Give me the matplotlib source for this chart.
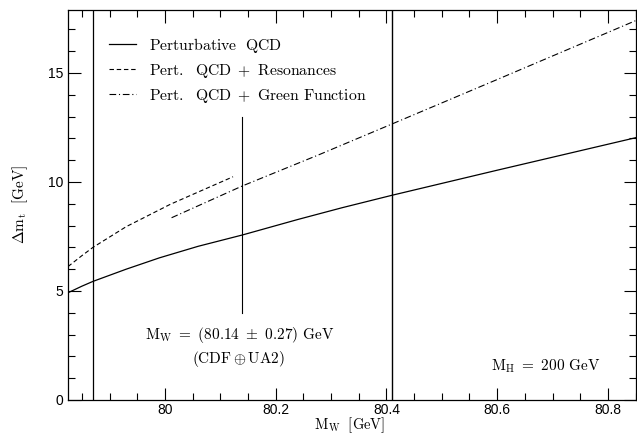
import matplotlib
matplotlib.use("Agg")
import matplotlib.pyplot as plt
from matplotlib.ticker import MultipleLocator

plt.rcParams['mathtext.fontset'] = 'cm'
plt.rcParams['font.family'] = ['Liberation Sans', 'DejaVu Sans']

# Perturbative QCD
mw_pqcd = [79.825, 79.85, 79.87, 79.93, 79.99, 80.06, 80.14, 80.24, 80.32, 80.41, 80.6, 80.85]
dm_pqcd = [4.92, 5.22, 5.44, 6.0, 6.52, 7.05, 7.57, 8.28, 8.82, 9.39, 10.54, 12.03]

# Pert. QCD + Resonances
mw_res = [79.825, 79.85, 79.87, 79.93, 80.01, 80.07, 80.123]
dm_res = [6.12, 6.62, 7.0, 7.95, 8.98, 9.65, 10.24]

# Pert. QCD + Green Function
mw_green = [80.012, 80.14, 80.28, 80.41, 80.6, 80.85]
dm_green = [8.36, 9.82, 11.27, 12.66, 14.7, 17.4]

labels = [r'$\mathrm{Perturbative\ \ QCD}$',
          r'$\mathrm{Pert.\ \ QCD\ +\ Resonances}$',
          r'$\mathrm{Pert.\ \ QCD\ +\ Green\ Function}$']

mw_central = 80.14
mw_err = 0.27

fig = plt.figure(figsize=(6.37, 4.36), dpi=100)
ax = fig.add_axes([0.1068, 0.0826, 0.891, 0.895])

ax.plot(mw_pqcd, dm_pqcd, color='black', lw=0.9, label=labels[0])
ax.plot(mw_res, dm_res, color='black', lw=0.8, dashes=(4, 2.5), label=labels[1])
ax.plot(mw_green, dm_green, color='black', lw=0.8, dashes=(6, 2.5, 1, 2.5), label=labels[2])

ax.axvline(mw_central - mw_err, color='black', lw=0.9)
ax.axvline(mw_central + mw_err, color='black', lw=1.0)
ax.plot([mw_central, mw_central], [4, 13], color='black', lw=0.8)

ax.set_xlim(79.825, 80.85)
ax.set_ylim(0, 17.9)
ax.xaxis.set_major_locator(MultipleLocator(0.2))
ax.xaxis.set_minor_locator(MultipleLocator(0.05))
ax.yaxis.set_major_locator(MultipleLocator(5))
ax.yaxis.set_minor_locator(MultipleLocator(1))
ax.set_xticks([80, 80.2, 80.4, 80.6, 80.8])
ax.set_xticklabels(['80', '80.2', '80.4', '80.6', '80.8'])
ax.tick_params(which='both', direction='in', top=True, right=True, labelsize=10)
ax.tick_params(which='major', length=9, width=0.8)
ax.tick_params(which='minor', length=5, width=0.8)
ax.tick_params(axis='x', pad=2.5)
for s in ax.spines.values():
    s.set_linewidth(0.9)

fig.text(350 / 637, 1 - 425 / 436, r'$\mathrm{M_W\ \ [GeV]}$', ha='center', va='center', fontsize=10.5)
ax.set_ylabel(r'$\Delta\mathrm{m_t\ \ [GeV]}$', fontsize=11, labelpad=13)

ax.text(mw_central - 0.005, 3.0, r'$\mathrm{M_W\ =\ (80.14\ \pm\ 0.27)\ GeV}$',
        ha='center', va='center', fontsize=11)
ax.text(mw_central - 0.008, 1.9, r'$\mathrm{(CDF \oplus UA2)}$',
        ha='center', va='center', fontsize=11)
ax.text(80.687, 1.55, r'$\mathrm{M_H\ =\ 200\ GeV}$', ha='center', va='center', fontsize=11)

ax.legend(loc='upper left', bbox_to_anchor=(0.0616, 0.95), frameon=False, fontsize=11.3,
          handlelength=1.7, handletextpad=0.85, labelspacing=0.45, borderaxespad=0)

fig.savefig('out.png', dpi=100)
